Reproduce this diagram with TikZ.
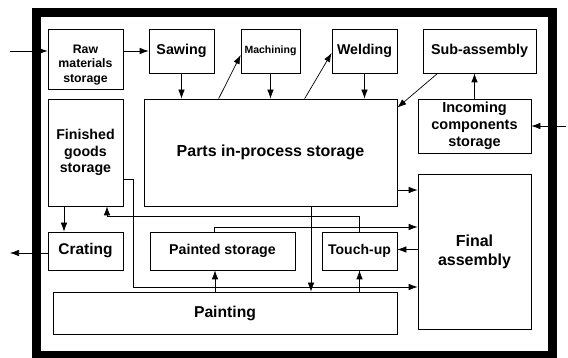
\documentclass[tikz,border=0pt]{standalone}
\usepackage{fontspec}
\setmainfont{Liberation Sans}
\usetikzlibrary{calc, arrows.meta}

\newcommand{\fsz}[2]{\fontsize{#1}{#2}\selectfont\bfseries}

\begin{document}
\begin{tikzpicture}[x=1pt, y=-1pt,
    box/.style={draw, line width=0.7pt, align=center, inner sep=1pt},
    flow/.style={line width=0.7pt, -{Latex[length=9pt, width=6.5pt]}}]
    \useasboundingbox (0,0) rectangle (568,358);
    \draw[line width=8.5pt] (36.5,12.5) rectangle (552.5,355.5);

    \coordinate (inL) at (10,51);
    \coordinate (inR) at (566,126);
    \coordinate (outL) at (10,253);

    % top row
    \node[box, minimum width=75pt, minimum height=60pt, font=\fsz{12.3}{14.5}]
        (raw) at (85.5,59) {\rule{0pt}{20pt}Raw\\materials\\storage};
    \node[box, minimum width=65pt, minimum height=44pt, font=\fsz{14.3}{16}]
        (sawing) at (181.5,51) {Sawing};
    \node[box, minimum width=59pt, minimum height=44pt, font=\fsz{10.5}{12}]
        (machining) at (270.5,51) {Machining};
    \node[box, minimum width=65pt, minimum height=44pt, font=\fsz{14.2}{16}]
        (welding) at (364.5,51) {Welding};
    \node[box, minimum width=113pt, minimum height=44pt, font=\fsz{14.3}{16}]
        (subassy) at (479.5,51) {Sub-assembly};

    % middle
    \node[box, minimum width=113pt, minimum height=54pt, font=\fsz{14.5}{17}]
        (incoming) at (474.5,126) {Incoming\\components\\storage};
    \node[box, minimum width=253pt, minimum height=107pt, font=\fsz{16}{18}]
        (parts) at (270.5,152.5) {Parts in-process storage};
    \node[box, minimum width=75pt, minimum height=107pt, font=\fsz{14.2}{16.5}]
        (finished) at (85.5,152.5) {Finished\\goods\\storage};

    % bottom
    \node[box, minimum width=75pt, minimum height=38pt, font=\fsz{15.5}{17}]
        (crating) at (85.5,251) {Crating};
    \node[box, minimum width=145pt, minimum height=38pt, font=\fsz{14.2}{16}]
        (painted) at (222.5,251) {Painted storage};
    \node[box, minimum width=75pt, minimum height=38pt, font=\fsz{14}{16}]
        (touchup) at (359.5,251) {Touch-up};
    \node[box, minimum width=113pt, minimum height=155pt, font=\fsz{16}{19}]
        (final) at (474.5,251.5) {Final\\assembly};
    \node[box, minimum width=344pt, minimum height=42pt, font=\fsz{15.7}{17}]
        (painting) at (225,313) {Painting};

    % material flow
    \draw[flow] (inL) -- (raw.west |- inL);
    \draw[flow] (raw.east |- sawing.west) -- (sawing.west);
    \draw[flow] (sawing.south) -- (sawing.south |- parts.north);
    \draw[flow] ([xshift=75pt]parts.north west) -- ([yshift=-4pt]machining.west);
    \draw[flow] (machining.south) -- (machining.south |- parts.north);
    \draw[flow] ([xshift=161pt]parts.north west) -- ([yshift=-2pt]welding.west);
    \draw[flow] (welding.south) -- (welding.south |- parts.north);
    \draw[flow] ([xshift=15pt]subassy.south west) -- ([yshift=-9pt]parts.north east);
    \draw[flow] (incoming.north) -- (incoming.north |- subassy.south);
    \draw[flow] (inR) -- (incoming.east |- inR);

    \draw[flow] ([yshift=-26.5pt]finished.east) -- ++(10,0)
        |- ([yshift=-35.5pt]final.west);
    \draw[flow] ([xshift=40.5pt]parts.south) -- ([xshift=40.5pt]parts.south |- painting.north);
    \draw[flow] ([yshift=-37.5pt]parts.east) coordinate (pe) -- (pe -| final.west);
    \draw[flow] ([xshift=-8pt]painted.north) |- ([yshift=24.5pt]final.west);
    \draw[flow] (touchup.north) -- ++(0,-15) -| ([xshift=21.5pt]finished.south);
    \draw[flow] ([yshift=2pt]final.west) -- ([yshift=2pt]final.west -| touchup.east);
    \draw[flow] ([xshift=-7.5pt]painted.south |- painting.north) -- ([xshift=-7.5pt]painted.south);
    \draw[flow] (touchup.south |- painting.north) -- (touchup.south);
    \draw[flow] ([xshift=-21.5pt]finished.south) -- ([xshift=-21.5pt]crating.north);
    \draw[flow] (crating.west |- outL) -- (outL);
\end{tikzpicture}
\end{document}
